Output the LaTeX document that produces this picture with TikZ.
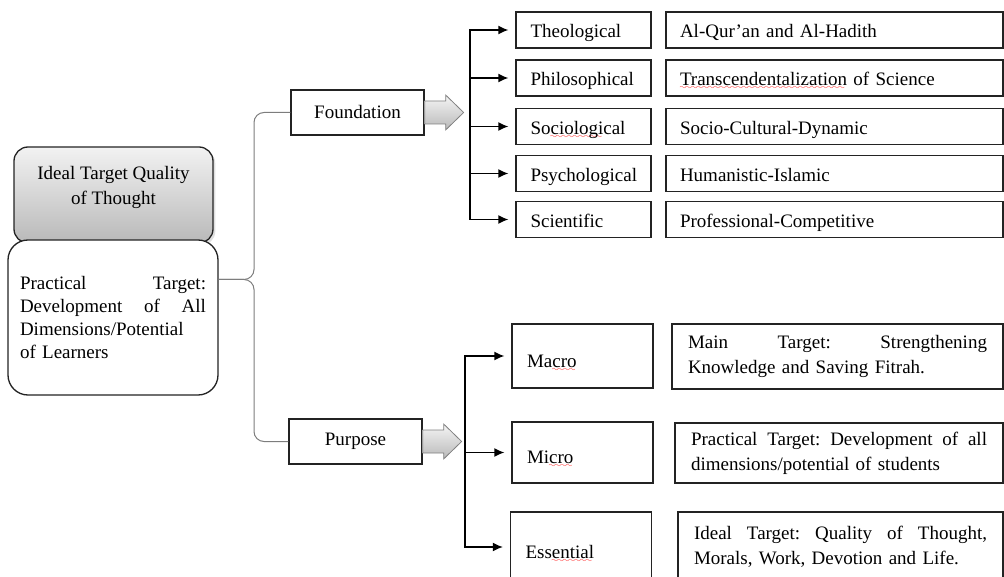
\documentclass[tikz,border=0pt]{standalone}
\usepackage{fontspec}
\setmainfont{Liberation Serif}
\usetikzlibrary{arrows.meta, calc, shadows}
\definecolor{frame}{RGB}{35, 35, 35}
\definecolor{spine}{RGB}{125, 125, 125}
\font\wavefont=lasy8
\newcommand{\typo}[1]{\setbox0\hbox{#1}\rlap{\textcolor{red}{\lower4pt\hbox to\wd0{\leaders\hbox{\wavefont\char58}\hfill}}}\box0\relax}

\begin{document}
\begin{tikzpicture}[x=1pt, y=-1pt, font=\fontsize{19}{25}\selectfont,
  box/.style={draw=frame, line width=1.3pt, fill=white, inner ysep=0pt},
  tag/.style={box, minimum height=36pt, text width=106pt, inner xsep=14.5pt, align=left,
    text height=18pt, text depth=2pt},
  note/.style={box, minimum height=36pt, text width=309pt, inner xsep=14pt, align=left,
    text height=18pt, text depth=2pt},
  tagb/.style={box, text width=111pt, inner xsep=15pt, align=left, text height=22pt, text depth=0pt},
  noteb/.style={box, inner xsep=16pt, align=left},
  branch/.style={line width=1.5pt, -{Latex[length=10pt, width=9pt]}, shorten >=7pt},
  trunk/.style={line width=1.5pt, line cap=rect},
  brace/.style={draw=spine, line width=1pt, rounded corners=10pt},
  blockarr/.style={draw=black!50, line width=0.8pt, top color=gray!8, bottom color=gray!55}]

\useasboundingbox (0, 0) rectangle (1004, 577);
\clip (0, 0) rectangle (1004, 577);

% left side
\node[box, rounded corners=14pt, top color=gray!10, bottom color=gray!55, minimum width=199pt,
  minimum height=96pt, align=center, text depth=20pt, drop shadow={opacity=0.25}]
  (ideal) at (113.5, 195) {Ideal Target Quality\\of Thought};
\node[box, rounded corners=20pt, minimum height=155pt, text width=186pt, inner xsep=12pt,
  align=left, font=\fontsize{19}{23}\selectfont]
  (prac) at (113, 317.5) {Practical\hfill Target:\\Development\hfill of\hfill All\\Dimensions/Potential\\of Learners};

\node[box, minimum width=133pt, minimum height=45pt] (found) at (357.5, 112.5) {Foundation};
\node[box, minimum width=133pt, minimum height=45pt] (purp) at (355.5, 441.5) {Purpose};

\coordinate (tip) at ($(prac.east) + (0, -38)$);
\coordinate (spine) at (254, 0);
\draw[brace] (tip) -| (spine |- found.west) -- (found.west);
\draw[brace] (tip) -| (spine |- purp.west) -- (purp.west);

\foreach \n in {found, purp} {
  \draw[blockarr] (\n.east) ++(0, -11.5) -- ++(21, 0) -- ++(0, -6) -- ++(18, 17.5)
    -- ++(-18, 17.5) -- ++(0, -6) -- ++(-21, 0) -- cycle;
}

% foundation
\coordinate (ftrunk) at (470, 0);
\foreach \n/\y/\a/\b in {theo/30/Theological/Al-Qur'an and Al-Hadith,
    philo/78/Philosophical/{\typo{Transcendentalization} of Science},
    socio/126.5/{So\typo{ciologi}cal}/Socio-Cultural-Dynamic,
    psych/173.5/Psychological/Humanistic-Islamic,
    scien/219.5/Scientific/Professional-Competitive} {
  \node[tag] (\n) at (583.5, \y) {\a};
  \node[note] (\n-r) at (834.5, \y) {\b};
  \draw[branch] (\n.west -| ftrunk) -- (\n.west);
}
\draw[trunk] (theo.west -| ftrunk) -- (scien.west -| ftrunk);

% purpose
\coordinate (ptrunk) at (465, 0);
\node[tagb, minimum height=64pt] (macro) at (582.5, 356) {Ma\typo{cro}};
\node[tagb, minimum height=61pt] (micro) at (582.5, 452.5) {Mi\typo{cro}};
\node[tagb, minimum height=70pt] (essen) at (581, 547) {Ess\typo{ential}};

\node[noteb, text width=299pt, minimum height=65pt] (main) at (837.5, 356.5)
  {Main\hfill Target:\hfill Strengthening\\Knowledge and Saving Fitrah.};
\node[noteb, text width=296pt, minimum height=60pt] (pract) at (839, 453)
  {Practical\hfill Target:\hfill Development\hfill of\hfill all\\dimensions/potential of students};
\node[noteb, text width=293pt, minimum height=70pt] (ideal-r) at (840.5, 547)
  {Ideal\hfill Target:\hfill Quality\hfill of\hfill Thought,\\Morals, Work, Devotion and Life.};

\foreach \n in {macro, micro, essen} {
  \draw[branch] (\n.west -| ptrunk) -- (\n.west);
}
\draw[trunk] (macro.west -| ptrunk) -- (essen.west -| ptrunk);

\end{tikzpicture}
\end{document}
